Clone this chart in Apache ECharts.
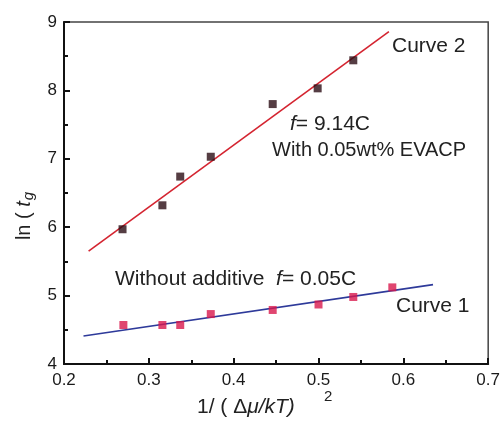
<!DOCTYPE html>
<html>
<head>
<meta charset="utf-8">
<script src="https://cdn.jsdelivr.net/npm/echarts@6/dist/echarts.min.js"></script>
<style>
  html, body { margin: 0; padding: 0; background: #fff; }
  #chart { width: 503px; height: 428px; }
</style>
</head>
<body>
<div id="chart"></div>
<script>
// curve 2: with 0.05wt% EVACP
const xWith = [0.269, 0.316, 0.337, 0.373, 0.446, 0.499, 0.541];
const yWith = [5.97, 6.32, 6.74, 7.03, 7.80, 8.03, 8.44];
// curve 1: without additive
const xWithout = [0.270, 0.316, 0.337, 0.373, 0.446, 0.500, 0.541, 0.587];
const yWithout = [4.57, 4.57, 4.57, 4.73, 4.79, 4.87, 4.98, 5.12];
// fitted lines, end points
const fitWith = [[0.229, 5.65], [0.583, 8.86]];
const fitWithout = [[0.223, 4.41], [0.635, 5.16]];

const xTicks = [0.2, 0.3, 0.4, 0.5, 0.6, 0.7];
const yTicks = [4, 5, 6, 7, 8, 9];

const FONT = 'Liberation Sans, Arial, sans-serif';

function zip(xs, ys) {
  return xs.map((x, i) => [x, ys[i]]);
}

const chart = echarts.init(document.getElementById('chart'), null, { renderer: 'canvas' });

const axisCommon = {
  axisLine: { show: true, lineStyle: { color: '#111', width: 2 } },
  axisTick: { show: true, inside: true, length: 6, lineStyle: { color: '#111', width: 2 } },
  minorTick: { show: true, splitNumber: 2, length: 4, lineStyle: { color: '#111', width: 2 } },
  splitLine: { show: false },
  axisLabel: { color: '#1a1a1a', fontSize: 17, fontFamily: FONT }
};

chart.setOption({
  backgroundColor: '#fff',
  animation: false,
  grid: {
    left: 64, top: 22, right: 11, bottom: 64,
    show: true, borderColor: '#444', borderWidth: 1.5
  },
  xAxis: Object.assign({}, axisCommon, {
    type: 'value',
    min: xTicks[0], max: xTicks[xTicks.length - 1], interval: 0.1,
    axisLabel: Object.assign({}, axisCommon.axisLabel, {
      margin: 8,
      formatter: v => v.toFixed(1)
    })
  }),
  yAxis: Object.assign({}, axisCommon, {
    type: 'value',
    min: yTicks[0], max: yTicks[yTicks.length - 1], interval: 1,
    axisLabel: Object.assign({}, axisCommon.axisLabel, { margin: 7 })
  }),
  series: [
    {
      type: 'line', data: fitWith, symbol: 'none',
      lineStyle: { color: '#d42430', width: 1.6 }, z: 2
    },
    {
      type: 'line', data: fitWithout, symbol: 'none',
      lineStyle: { color: '#2e3a9a', width: 1.6 }, z: 2
    },
    {
      type: 'scatter', data: zip(xWith, yWith), symbol: 'rect', symbolSize: 8,
      itemStyle: { color: '#2a0c14' }, z: 3
    },
    {
      type: 'scatter', data: zip(xWithout, yWithout), symbol: 'rect', symbolSize: 8,
      itemStyle: { color: '#d8184c' }, z: 3
    }
  ],
  graphic: [
    { type: 'text', left: 392, top: 36,
      style: { text: 'Curve 2', font: '21px ' + FONT, fill: '#222' } },
    { type: 'text', left: 396, top: 296,
      style: { text: 'Curve 1', font: '21px ' + FONT, fill: '#222' } },
    { type: 'text', left: 290, top: 114,
      style: {
        text: '{i|f}{n|= 9.14C}',
        rich: {
          i: { font: 'italic 21px ' + FONT, fill: '#222' },
          n: { font: '21px ' + FONT, fill: '#222' }
        }
      } },
    { type: 'text', left: 272, top: 140,
      style: { text: 'With 0.05wt% EVACP', font: '20px ' + FONT, fill: '#222' } },
    { type: 'text', left: 115, top: 269,
      style: {
        text: '{n|Without additive  }{i|f}{n|= 0.05C}',
        rich: {
          i: { font: 'italic 21px ' + FONT, fill: '#222' },
          n: { font: '21px ' + FONT, fill: '#222' }
        }
      } },
    // x axis title
    { type: 'text', left: 197, top: 397,
      style: {
        text: '{n|1/ ( Δ}{i|μ/kT)}',
        rich: {
          i: { font: 'italic 21px ' + FONT, fill: '#222' },
          n: { font: '21px ' + FONT, fill: '#222' }
        }
      } },
    { type: 'text', left: 324, top: 389,
      style: { text: '2', font: '15px ' + FONT, fill: '#222' } },
    // y axis title
    { type: 'text', x: 24, y: 216, rotation: Math.PI / 2,
      style: {
        text: '{n|ln ( }{i|t}{s|g}',
        align: 'center', verticalAlign: 'middle',
        rich: {
          n: { font: '20px ' + FONT, fill: '#222' },
          i: { font: 'italic 20px ' + FONT, fill: '#222' },
          s: { font: 'italic 15px ' + FONT, fill: '#222', padding: [10, 0, 0, 1] }
        }
      } }
  ]
});
</script>
</body>
</html>
